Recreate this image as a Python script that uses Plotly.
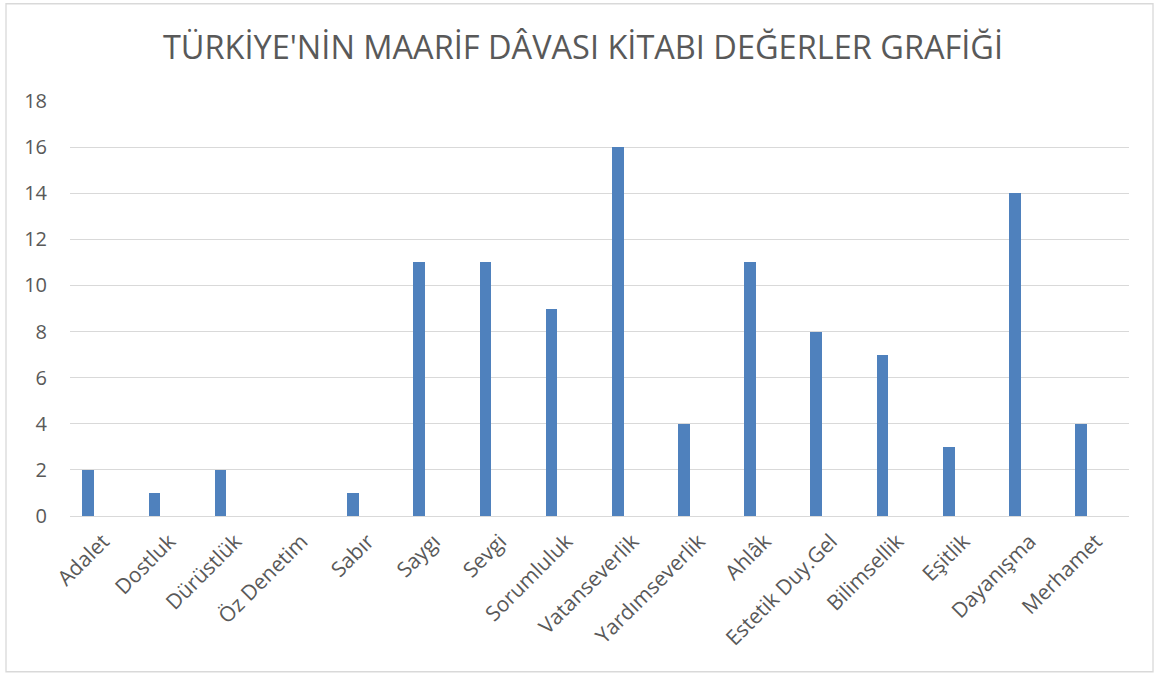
import plotly.graph_objects as go

# ----------------- veri -----------------
degerler = ["Adalet", "Dostluk", "Dürüstlük", "Öz Denetim", "Sabır", "Saygı", "Sevgi",
            "Sorumluluk", "Vatanseverlik", "Yardımseverlik", "Ahlâk", "Estetik Duy.Gel",
            "Bilimsellik", "Eşitlik", "Dayanışma", "Merhamet"]
sayilar = [2, 1, 2, 0, 1, 11, 11, 9, 16, 4, 11, 8, 7, 3, 14, 4]
y_ticks = [0, 2, 4, 6, 8, 10, 12, 14, 16, 18]

baslik = "TÜRKİYE'NİN MAARİF DÂVASI KİTABI DEĞERLER GRAFİĞİ"

FONT = "Open Sans"
GRI = "#595959"

fig = go.Figure()
fig.add_trace(go.Bar(
    x=degerler, y=sayilar,
    width=0.177, offset=-0.313,
    marker=dict(color="#4F81BD", line=dict(width=0)),
    showlegend=False))

fig.update_layout(
    width=1159, height=675,
    margin=dict(l=70, r=30, t=101, b=159),
    paper_bgcolor="white", plot_bgcolor="white",
    font=dict(family=FONT, color=GRI, size=20),
    title=dict(text=baslik, x=0.503, xanchor="center", y=1 - 48 / 675, yanchor="middle",
               font=dict(family=FONT, size=32.5, color=GRI)),
    bargap=0,
)
fig.update_xaxes(type="category", tickangle=-45, showgrid=False, showline=False,
                 ticks="", ticklabelstandoff=8, tickfont=dict(size=21))
fig.update_yaxes(range=[0, 18], tickvals=y_ticks, showgrid=True, gridcolor="#D9D9D9",
                 gridwidth=1, zeroline=True, zerolinecolor="#D9D9D9", zerolinewidth=1,
                 showline=False, ticks="", ticklabelstandoff=22, tickfont=dict(size=20))

# dış çerçeve
fig.add_shape(type="rect", xref="paper", yref="paper",
              x0=(6 - 70) / 1059, x1=(1153 - 70) / 1059,
              y0=(516 - 672) / 415.6, y1=(516 - 3) / 415.6,
              line=dict(color="#D9D9D9", width=1.3), fillcolor="rgba(0,0,0,0)", layer="below")

fig.write_html("out.html", config={"displayModeBar": False},
               post_script="document.body.style.margin='0';")
